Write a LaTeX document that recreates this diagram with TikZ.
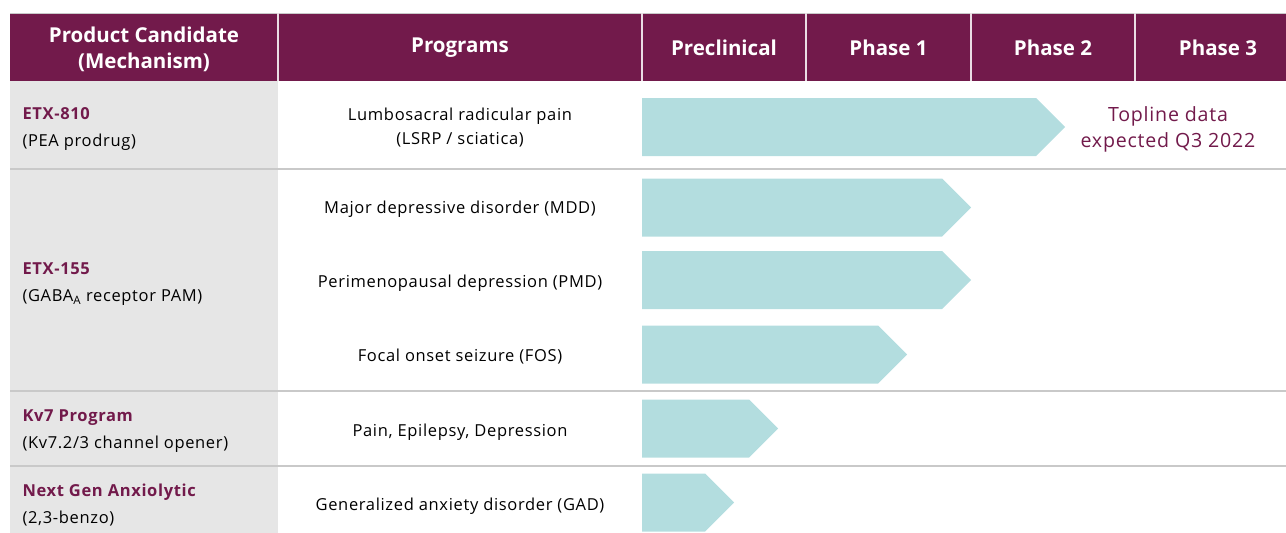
\documentclass[tikz,border=0pt]{standalone}
\usepackage{fontspec}
\setmainfont{Open Sans}[LetterSpace=4]
\newfontfamily\headfont{Open Sans}
\usetikzlibrary{shapes.symbols}
\definecolor{plum}{HTML}{721A4B}
\definecolor{cellgrey}{HTML}{E6E6E6}
\definecolor{rulegrey}{HTML}{C9C9C9}
\definecolor{barcyan}{HTML}{B3DDDF}
\begin{document}
\begin{tikzpicture}[x=1pt, y=-1pt,
    head/.style={text=white, font=\headfont\fontsize{20.5}{26.5}\selectfont\bfseries, align=center},
    cand/.style={anchor=west, align=left, font=\fontsize{16.5}{27}\selectfont},
    prog/.style={align=center, font=\fontsize{16.5}{24}\selectfont},
    bar/.style={signal, signal to=east, fill=barcyan, draw=none, inner sep=0pt,
                minimum height=58pt, anchor=west}]
    \useasboundingbox (0,0) rectangle (1286,533);

    % Fundo da tabela
    \fill[plum] (10,13) rectangle (1286,81);
    \fill[cellgrey] (10,81) rectangle (278,533);
    \draw[rulegrey, line width=1pt] (10,13) -- (1286,13);
    \foreach \x in {278, 642, 806, 971, 1135}
        \draw[white!85!plum, line width=1.2pt] (\x,13) -- (\x,81);
    \foreach \y in {169, 391, 466}
        \draw[rulegrey, line width=1.5pt] (10,\y) -- (1286,\y);

    % Cabeçalho
    \node[head] (hcand) at (144,49.5) {Product Candidate\\(Mechanism)};
    \node[head] (hprog) at (460,48) {Programs};
    \node[head] (hpre) at (724,48) {Preclinical};
    \node[head] (hph1) at (888.5,48) {Phase 1};
    \node[head] (hph2) at (1053,48) {Phase 2};
    \node[head] (hph3) at (1218,48) {Phase 3};

    % Candidatos
    \node[cand] (etx810) at (19,128.5) {\textcolor{plum}{\bfseries ETX-810}\\(PEA prodrug)};
    \node[cand] (etx155) at (19,284) {\textcolor{plum}{\bfseries ETX-155}\\(GABA\textsubscript{A} receptor PAM)};
    \node[cand] (kv7) at (19,431) {\textcolor{plum}{\bfseries Kv7 Program}\\(Kv7.2/3 channel opener)};
    \node[cand] (nextgen) at (19,505.5) {\textcolor{plum}{\bfseries Next Gen Anxiolytic}\\(2,3-benzo)};

    % Programas
    \node[prog] (plsrp) at (460,128) {Lumbosacral radicular pain\\(LSRP / sciatica)};
    \node[prog] (pmdd) at (460,209) {Major depressive disorder (MDD)};
    \node[prog] (ppmd) at (460,283) {Perimenopausal depression (PMD)};
    \node[prog] (pfos) at (460,357) {Focal onset seizure (FOS)};
    \node[prog] (pkv7) at (460,432) {Pain, Epilepsy, Depression};
    \node[prog] (pgad) at (460,506) {Generalized anxiety disorder (GAD)};

    % Barras de progresso
    \node[bar, minimum width=423pt] (blsrp) at (642,127) {};
    \node[bar, minimum width=329pt] (bmdd) at (642,207.5) {};
    \node[bar, minimum width=329pt] (bpmd) at (642,280) {};
    \node[bar, minimum width=265pt] (bfos) at (642,354.5) {};
    \node[bar, minimum width=136pt] (bkv7) at (642,428.5) {};
    \node[bar, minimum width=92pt] (bgad) at (642,502.5) {};

    \node[align=center, text=plum, font=\fontsize{19.6}{26}\selectfont] (topline)
        at (1168,129.5) {Topline data\\expected Q3 2022};
\end{tikzpicture}
\end{document}
